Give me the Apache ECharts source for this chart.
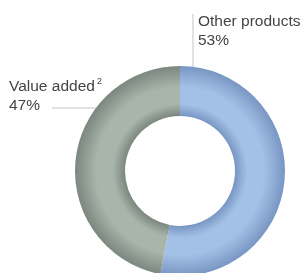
<!DOCTYPE html>
<html>
<head>
<meta charset="utf-8">
<script src="https://cdn.jsdelivr.net/npm/echarts@6/dist/echarts.min.js"></script>
<style>
  html, body { margin: 0; padding: 0; background: #fff; }
  #main { width: 303px; height: 273px; }
</style>
</head>
<body>
<div id="main"></div>
<script>
var names = ['Other products', 'Value added'];
var footnotes = ['', '2'];
var values = [53, 47];

var cx = 180, cy = 171, rOut = 105, rIn = 55;

function ringGradient(dark, light) {
  return new echarts.graphic.RadialGradient(cx, cy, rOut, [
    { offset: rIn / rOut, color: dark },
    { offset: 0.64, color: light },
    { offset: 0.8, color: light },
    { offset: 1, color: dark }
  ], true);
}

var colors = [
  ringGradient('#7896c2', '#a3c1e7'),
  ringGradient('#7b877f', '#a9b5aa')
];

// where each label sits and how its leader line runs
var labelSpots = [
  { x: 198, y: 12.5, line: [[193, 76], [193, 45], [193, 14]] },
  { x: 9, y: 77.5, line: [[109, 108], [80, 108], [52, 108]] }
];

var myChart = echarts.init(document.getElementById('main'));

var option = {
  animation: false,
  series: [
    {
      type: 'pie',
      center: [cx, cy],
      radius: [rIn, rOut],
      startAngle: 90,
      clockwise: true,
      avoidLabelOverlap: false,
      itemStyle: { borderWidth: 0 },
      data: names.map(function (n, i) {
        return {
          name: n,
          value: values[i],
          itemStyle: { color: colors[i] },
          label: {
            formatter: footnotes[i]
              ? '{t|{b}}{sup|' + footnotes[i] + '}\n{t|{d}%}'
              : '{t|{b}}\n{t|{d}%}'
          }
        };
      }),
      label: {
        show: true,
        position: 'outside',
        overflow: 'none',
        width: 200,
        rich: {
          t: { fontFamily: 'Liberation Sans', fontSize: 15.5, color: '#444', lineHeight: 18.5 },
          sup: { fontFamily: 'Liberation Sans', fontSize: 9, color: '#444', lineHeight: 12, verticalAlign: 'top', padding: [0, 0, 0, 2] }
        }
      },
      labelLine: {
        show: true,
        lineStyle: { color: '#c4c4c4', width: 1 }
      },
      labelLayout: function (p) {
        var s = labelSpots[p.dataIndex];
        return {
          x: s.x,
          y: s.y,
          align: 'left',
          verticalAlign: 'top',
          hideOverlap: false,
          labelLinePoints: s.line
        };
      },
      emphasis: { disabled: true }
    }
  ]
};

myChart.setOption(option);
</script>
</body>
</html>
